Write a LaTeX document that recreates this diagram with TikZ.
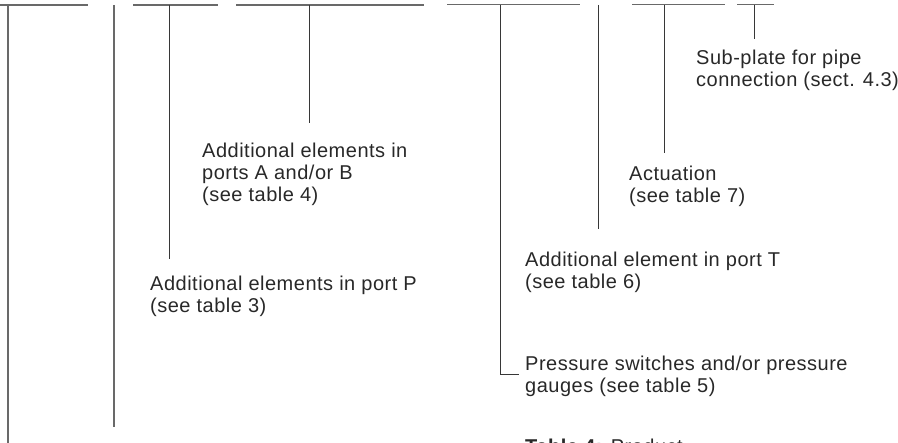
\documentclass[tikz,border=0pt]{standalone}
\usepackage{fontspec}
\setmainfont{Liberation Sans}[LetterSpace=2.5]
\definecolor{barcol}{RGB}{105,105,105}
\definecolor{leadcol}{RGB}{55,55,55}
\definecolor{txtcol}{RGB}{40,40,40}
\begin{document}
\begin{tikzpicture}[x=1pt,y=-1pt,
  bar/.style={draw=barcol,line width=1.6pt},
  lead/.style={draw=leadcol,line width=1pt},
  label/.style={anchor=base west,inner sep=0pt,align=left,text=txtcol,
    font=\fontsize{20}{22}\selectfont}]
\useasboundingbox (0,0) rectangle (898,443);
% coordinates
\coordinate (b1l) at (0,5);   \coordinate (b1r) at (88,5);
\coordinate (v1t) at (8,5);   \coordinate (v1b) at (8,450);
\coordinate (v2t) at (114,5); \coordinate (v2b) at (114,427);
\coordinate (b2l) at (133,5); \coordinate (b2r) at (218,5);
\coordinate (v3t) at (169,5); \coordinate (v3b) at (169,259);
\coordinate (b3l) at (236,5); \coordinate (b3r) at (424,5);
\coordinate (v4t) at (309,5); \coordinate (v4b) at (309,123);
\coordinate (b4l) at (447,5); \coordinate (b4r) at (580,5);
\coordinate (v5t) at (500,5); \coordinate (v5c) at (500,375); \coordinate (v5e) at (519,375);
\coordinate (v6t) at (598,5); \coordinate (v6b) at (598,229);
\coordinate (b5l) at (632,5); \coordinate (b5r) at (725,5);
\coordinate (v7t) at (664,5); \coordinate (v7b) at (664,153);
\coordinate (b6l) at (737,5); \coordinate (b6r) at (774,5);
\coordinate (v8t) at (754,5); \coordinate (v8b) at (754,39);
% bars
\draw[bar] (b1l) -- (b1r);
\draw[bar] (v1t) -- (v1b);
\draw[bar] (v2t) -- (v2b);
\draw[bar] (b2l) -- (b2r);
\draw[lead] (v3t) -- (v3b);
\draw[bar] (b3l) -- (b3r);
\draw[lead] (v4t) -- (v4b);
\draw[lead,draw=barcol] (b4l) -- (b4r);
\draw[lead] (v5t) -- (v5c) -- (v5e);
\draw[lead] (v6t) -- (v6b);
\draw[lead,draw=barcol] (b5l) -- (b5r);
\draw[lead] (v7t) -- (v7b);
\draw[lead,draw=barcol] (b6l) -- (b6r);
\draw[lead] (v8t) -- (v8b);
% labels (anchor = baseline of the last line)
\node[label] (subplate) at (696,86.5) {Sub-plate for pipe\\connection (sect. 4.3)};
\node[label] (actuation) at (629,203) {Actuation\\(see table 7)};
\node[label] (portAB) at (202,202) {Additional elements in\\ports A and/or B\\(see table 4)};
\node[label] (portP) at (150,313) {Additional elements in port P\\(see table 3)};
\node[label] (portT) at (525,289) {Additional element in port T\\(see table 6)};
\node[label] (pressure) at (525,393) {Pressure switches and/or pressure\\gauges (see table 5)};
\node[label] (table) at (525,454) {\textbf{Table 4:} Product};
\end{tikzpicture}
\end{document}
